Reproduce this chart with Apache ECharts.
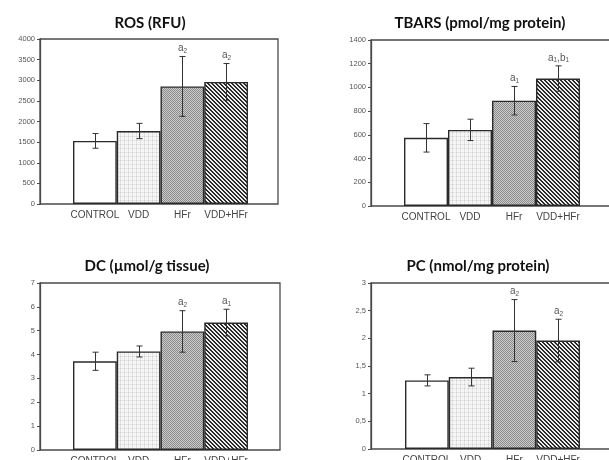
<!DOCTYPE html>
<html><head><meta charset="utf-8">
<script src="https://cdn.jsdelivr.net/npm/echarts@6/dist/echarts.min.js"></script>
<style>html,body{margin:0;padding:0;background:#fff}#c{width:609px;height:460px}</style>
</head><body><div id="c"></div>
<script>
// ---- data ----
const categories = ['CONTROL', 'VDD', 'HFr', 'VDD+HFr'];
const titles = ['ROS (RFU)', 'TBARS (pmol/mg protein)', 'DC (µmol/g tissue)', 'PC (nmol/mg protein)'];

const rosMean = [1530, 1770, 2850, 2960];
const rosErr = [178, 185, 725, 445];
const rosMarks = ['', '', 'a_2', 'a_2'];
const rosTicks = [0, 500, 1000, 1500, 2000, 2500, 3000, 3500, 4000];

const tbarsMean = [575, 642, 888, 1075];
const tbarsErr = [120, 90, 120, 107];
const tbarsMarks = ['', '', 'a_1', 'a_1,b_1'];
const tbarsTicks = [0, 200, 400, 600, 800, 1000, 1200, 1400];

const dcMean = [3.72, 4.13, 4.97, 5.34];
const dcErr = [0.38, 0.23, 0.87, 0.56];
const dcMarks = ['', '', 'a_2', 'a_1'];
const dcTicks = [0, 1, 2, 3, 4, 5, 6, 7];

const pcMean = [1.24, 1.30, 2.14, 1.96];
const pcErr = [0.10, 0.16, 0.56, 0.385];
const pcMarks = ['', '', 'a_2', 'a_2'];
const pcTicks = [0, 0.5, 1, 1.5, 2, 2.5, 3];

// ---- styles / layout ----
function makePattern(size, draw) {
  const c = document.createElement('canvas');
  c.width = c.height = size;
  const g = c.getContext('2d');
  draw(g, size);
  return { image: c, repeat: 'repeat' };
}
const patWhite = '#ffffff';
const patDots = makePattern(4, (g) => {
  g.fillStyle = '#f7f7f7'; g.fillRect(0, 0, 4, 4);
  g.fillStyle = '#e2e2e2'; g.fillRect(0, 0, 1, 4);
  g.fillStyle = '#e6e6e6'; g.fillRect(0, 0, 4, 1);
  g.fillStyle = '#cdcdcd'; g.fillRect(0, 0, 1, 1);
  g.fillStyle = '#ececec'; g.fillRect(2, 2, 1, 1);
});
const patGray = makePattern(2, (g) => {
  g.fillStyle = '#cbcbcb'; g.fillRect(0, 0, 2, 2);
  g.fillStyle = '#8c8c8c'; g.fillRect(0, 0, 1, 1); g.fillRect(1, 1, 1, 1);
});
const patStripe = makePattern(4, (g) => {
  for (let y = 0; y < 4; y++) for (let x = 0; x < 4; x++) {
    g.fillStyle = ((x - y + 8) % 4 < 2) ? '#2a2a2a' : '#eeeeee';
    g.fillRect(x, y, 1, 1);
  }
});
const barFills = [patWhite, patDots, patGray, patStripe];

const panels = [
  { mean: rosMean, err: rosErr, marks: rosMarks, ticks: rosTicks,
    frame: { left: 40, top: 39, width: 238, height: 165 }, inner: { left: 73, width: 175 }, tx: 150, ty: 16 },
  { mean: tbarsMean, err: tbarsErr, marks: tbarsMarks, ticks: tbarsTicks,
    frame: { left: 371, top: 40, width: 245, height: 166 }, inner: { left: 404, width: 176 }, tx: 480, ty: 16 },
  { mean: dcMean, err: dcErr, marks: dcMarks, ticks: dcTicks,
    frame: { left: 40, top: 283, width: 240, height: 167 }, inner: { left: 73, width: 175 }, tx: 147, ty: 259 },
  { mean: pcMean, err: pcErr, marks: pcMarks, ticks: pcTicks,
    frame: { left: 371, top: 283, width: 245, height: 166 }, inner: { left: 405, width: 175 }, tx: 478, ty: 259 }
];

function richMark(s) {
  let out = '';
  for (let k = 0; k < s.length; k++) {
    if (s[k] === '_') { out += '{s|' + s[k + 1] + '}'; k++; }
    else out += '{m|' + s[k] + '}';
  }
  return out;
}

const option = {
  backgroundColor: '#fff',
  animation: false,
  title: [], grid: [], xAxis: [], yAxis: [], series: []
};

panels.forEach((p, i) => {
  const tk = p.ticks;
  const ymin = tk[0], ymax = tk[tk.length - 1], step = tk[1] - tk[0];
  option.title.push({
    text: titles[i], left: p.tx, top: p.ty, textAlign: 'center', padding: 0,
    textStyle: { fontFamily: 'Lato', fontWeight: 'bold', fontSize: 15, color: '#111' }
  });
  option.grid.push({
    left: p.frame.left, top: p.frame.top, width: p.frame.width, height: p.frame.height,
    outerBoundsMode: 'none', containLabel: false,
    show: true, borderColor: '#4a4a4a', borderWidth: 1.3, backgroundColor: 'transparent'
  });
  option.grid.push({
    left: p.inner.left, top: p.frame.top, width: p.inner.width, height: p.frame.height,
    outerBoundsMode: 'none', containLabel: false
  });
  option.xAxis.push({ type: 'value', gridIndex: 2 * i, show: false, min: 0, max: 1 });
  option.xAxis.push({
    type: 'category', gridIndex: 2 * i + 1, data: categories,
    axisLine: { show: false }, axisTick: { show: false },
    axisLabel: { interval: 0, margin: 6, fontSize: 10, color: '#444', fontFamily: 'Liberation Sans' }
  });
  option.yAxis.push({
    type: 'value', gridIndex: 2 * i, min: ymin, max: ymax, interval: step,
    axisLine: { show: true, lineStyle: { color: '#4a4a4a', width: 1.3 } },
    axisTick: { show: true, length: 3, lineStyle: { color: '#4a4a4a' } },
    splitLine: { show: false },
    axisLabel: {
      fontSize: 7.5, color: '#555', margin: 5, fontFamily: 'Liberation Sans',
      formatter: (v) => String(v).replace('.', ',')
    }
  });
  option.yAxis.push({ type: 'value', gridIndex: 2 * i + 1, min: ymin, max: ymax, interval: step, show: false });

  option.series.push({
    type: 'bar', xAxisIndex: 2 * i + 1, yAxisIndex: 2 * i + 1,
    barCategoryGap: '0%',
    data: p.mean.map((v, k) => ({ value: v, itemStyle: { color: barFills[k] } })),
    itemStyle: { borderColor: '#2a2a2a', borderWidth: 1.4 },
    z: 2
  });
  option.series.push({
    type: 'custom', xAxisIndex: 2 * i + 1, yAxisIndex: 2 * i + 1, z: 5,
    data: p.mean.map((v, k) => [k, v, p.err[k]]),
    renderItem: (params, api) => {
      const k = api.value(0), v = api.value(1), e = api.value(2);
      const top = api.coord([k, v + e]);
      const bot = api.coord([k, v - e]);
      const x = Math.round(top[0]) + 0.5;
      const hw = 3;
      const st = { stroke: '#333', lineWidth: 1 };
      const children = [
        { type: 'line', shape: { x1: x, y1: top[1], x2: x, y2: bot[1] }, style: st },
        { type: 'line', shape: { x1: x - hw, y1: top[1], x2: x + hw, y2: top[1] }, style: st },
        { type: 'line', shape: { x1: x - hw, y1: bot[1], x2: x + hw, y2: bot[1] }, style: st }
      ];
      const mk = p.marks[params.dataIndex];
      if (mk) {
        children.push({
          type: 'text', x: x, y: top[1] - 2,
          style: {
            text: richMark(mk), textAlign: 'center', verticalAlign: 'bottom', textVerticalAlign: 'bottom',
            rich: {
              m: { fontSize: 10, fill: '#555', fontFamily: 'Liberation Sans' },
              s: { fontSize: 6.5, fill: '#555', fontFamily: 'Liberation Sans', padding: [5, 0, 0, 0] }
            }
          }
        });
      }
      return { type: 'group', children };
    }
  });
});

const chart = echarts.init(document.getElementById('c'), null, { renderer: 'canvas', width: 609, height: 460 });
chart.setOption(option);
</script>
</body></html>
